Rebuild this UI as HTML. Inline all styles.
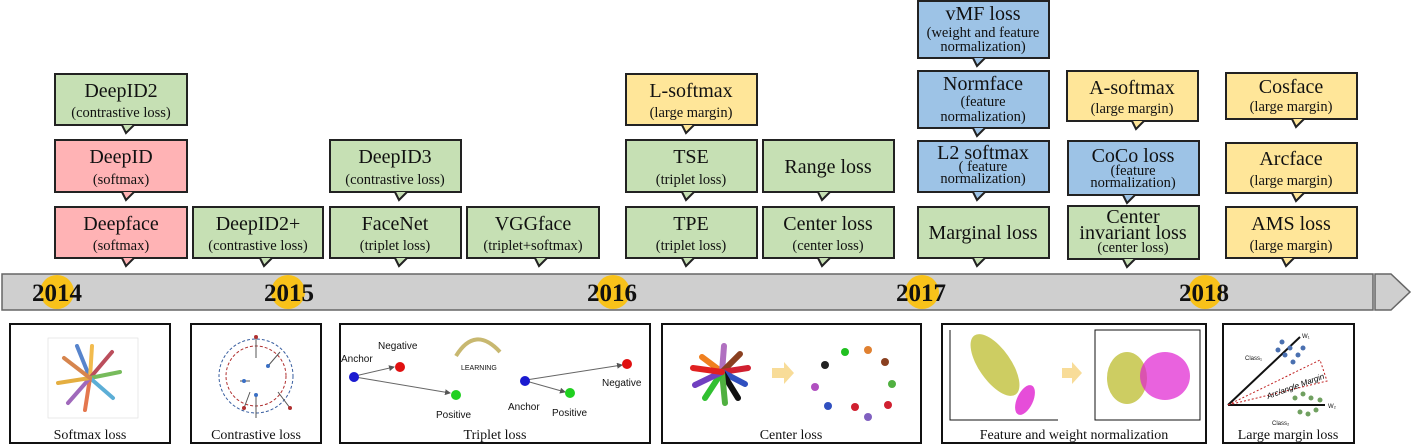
<!DOCTYPE html>
<html><head><meta charset="utf-8"><style>
html,body{margin:0;padding:0;background:#fff;}
svg{display:block;font-family:"Liberation Serif",serif;}
</style></head><body>
<svg width="1412" height="448" viewBox="0 0 1412 448" xmlns="http://www.w3.org/2000/svg">
<defs>
<marker id="ah" markerWidth="6" markerHeight="6" refX="5" refY="3" orient="auto"><path d="M0,0L6,3L0,6z" fill="#555"/></marker>
</defs>
<!-- timeline -->
<rect x="2" y="274" width="1371" height="36" fill="#cfcfcf" stroke="#666" stroke-width="1.5"/>
<polygon points="1375,274 1391,274 1410,292 1391,310 1375,310" fill="#cfcfcf" stroke="#666" stroke-width="1.5"/>
<g fill="#f8c21a">
<circle cx="57" cy="292" r="17"/><circle cx="288" cy="292" r="17"/><circle cx="613" cy="292" r="17"/><circle cx="922" cy="292" r="17"/><circle cx="1205" cy="292" r="17"/>
</g>
<g font-size="25" font-weight="bold" fill="#111" text-anchor="middle">
<text x="57" y="301">2014</text><text x="289" y="301">2015</text><text x="612" y="301">2016</text><text x="921" y="301">2017</text><text x="1204" y="301">2018</text>
</g>

<g stroke="#222" stroke-width="2">
<g fill="#c6e0b4">
<rect x="55" y="74" width="132" height="51"/>
<rect x="193" y="207" width="130" height="51"/>
<rect x="330" y="140" width="131" height="52"/>
<rect x="330" y="207" width="131" height="51"/>
<rect x="467" y="207" width="132" height="51"/>
<rect x="626" y="140" width="131" height="52"/>
<rect x="626" y="207" width="131" height="51"/>
<rect x="763" y="140" width="131" height="52"/>
<rect x="763" y="207" width="131" height="51"/>
<rect x="918" y="207" width="131" height="51"/>
<rect x="1068" y="206" width="131" height="53"/>
</g>
<g fill="#ffb3b5">
<rect x="55" y="140" width="132" height="52"/>
<rect x="55" y="207" width="132" height="51"/>
</g>
<g fill="#9dc3e6">
<rect x="918" y="1" width="131" height="57"/>
<rect x="918" y="71" width="131" height="57"/>
<rect x="918" y="141" width="131" height="51"/>
<rect x="1068" y="141" width="131" height="54"/>
</g>
<g fill="#ffe699">
<rect x="626" y="74" width="131" height="51"/>
<rect x="1067" y="71" width="131" height="50"/>
<rect x="1226" y="73" width="131" height="46"/>
<rect x="1226" y="143" width="131" height="50"/>
<rect x="1226" y="207" width="131" height="51"/>
</g>
</g>
<!-- tails -->
<g stroke="#222" stroke-width="2" stroke-linejoin="miter">
<g fill="#c6e0b4">
<path d="M122,125 L126,133 L134,125"/>
<path d="M260,258 L264,266 L272,258"/>
<path d="M395,192 L399,200 L407,192"/>
<path d="M395,258 L399,266 L407,258"/>
<path d="M535,258 L539,266 L547,258"/>
<path d="M682,192 L686,200 L694,192"/>
<path d="M682,258 L686,266 L694,258"/>
<path d="M818,192 L822,200 L830,192"/>
<path d="M818,258 L822,266 L830,258"/>
<path d="M973,258 L977,266 L985,258"/>
<path d="M1123,259 L1127,267 L1135,259"/>
</g>
<g fill="#ffb3b5">
<path d="M122,192 L126,200 L134,192"/>
<path d="M122,258 L126,266 L134,258"/>
</g>
<g fill="#9dc3e6">
<path d="M973,58 L977,66 L985,58"/>
<path d="M973,128 L977,136 L985,128"/>
<path d="M973,192 L977,200 L985,192"/>
<path d="M1123,195 L1127,203 L1135,195"/>
</g>
<g fill="#ffe699">
<path d="M682,125 L686,133 L694,125"/>
<path d="M1132,121 L1136,129 L1144,121"/>
<path d="M1292,119 L1296,127 L1304,119"/>
<path d="M1292,193 L1296,201 L1304,193"/>
<path d="M1282,258 L1286,266 L1294,258"/>
</g>
</g>

<!-- box text -->
<g fill="#111" text-anchor="middle">
<g font-size="20">
<text x="121" y="97">DeepID2</text>
<text x="121" y="163">DeepID</text>
<text x="121" y="230">Deepface</text>
<text x="258" y="230">DeepID2+</text>
<text x="395" y="163">DeepID3</text>
<text x="395" y="230">FaceNet</text>
<text x="533" y="230">VGGface</text>
<text x="691" y="97">L-softmax</text>
<text x="691" y="163">TSE</text>
<text x="691" y="230">TPE</text>
<text x="828" y="173">Range loss</text>
<text x="828" y="230">Center loss</text>
<text x="983" y="20">vMF loss</text>
<text x="983" y="90">Normface</text>
<text x="983" y="159">L2 softmax</text>
<text x="983" y="239">Marginal loss</text>
<text x="1132" y="94">A-softmax</text>
<text x="1133" y="162">CoCo loss</text>
<text x="1133" y="223">Center</text>
<text x="1133" y="239">invariant loss</text>
<text x="1291" y="93">Cosface</text>
<text x="1291" y="165">Arcface</text>
<text x="1291" y="230">AMS loss</text>
</g>
<g font-size="14.5">
<text x="121" y="117">(contrastive loss)</text>
<text x="121" y="184">(softmax)</text>
<text x="121" y="250">(softmax)</text>
<text x="258" y="250">(contrastive loss)</text>
<text x="395" y="184">(contrastive loss)</text>
<text x="395" y="250">(triplet loss)</text>
<text x="533" y="250">(triplet+softmax)</text>
<text x="691" y="117">(large margin)</text>
<text x="691" y="184">(triplet loss)</text>
<text x="691" y="250">(triplet loss)</text>
<text x="828" y="250">(center loss)</text>
<text x="983" y="37">(weight and feature</text>
<text x="983" y="51">normalization)</text>
<text x="983" y="106">(feature</text>
<text x="983" y="121">normalization)</text>
<text x="983" y="171">( feature</text>
<text x="983" y="183">normalization)</text>
<text x="1133" y="175">(feature</text>
<text x="1133" y="187">normalization)</text>
<text x="1133" y="252">(center loss)</text>
<text x="1132" y="113">(large margin)</text>
<text x="1291" y="111">(large margin)</text>
<text x="1291" y="185">(large margin)</text>
<text x="1291" y="250">(large margin)</text>
</g>
</g>

<!-- bottom panels -->
<g fill="#fff" stroke="#111" stroke-width="2">
<rect x="10" y="324" width="160" height="119"/>
<rect x="191" y="324" width="130" height="119"/>
<rect x="340" y="324" width="310" height="119"/>
<rect x="662" y="324" width="259" height="119"/>
<rect x="942" y="324" width="264" height="119"/>
<rect x="1223" y="324" width="131" height="119"/>
</g>
<g font-size="14" fill="#111" text-anchor="middle">
<text x="90" y="439">Softmax loss</text>
<text x="256" y="439">Contrastive loss</text>
<text x="495" y="439">Triplet loss</text>
<text x="791" y="439">Center loss</text>
<text x="1074" y="439">Feature and weight normalization</text>
<text x="1288" y="439">Large margin loss</text>
</g>

<!-- softmax illus -->
<rect x="48" y="338" width="90" height="80" fill="none" stroke="#ddd" stroke-width="0.6"/>
<g stroke-width="4" stroke-linecap="round" opacity="0.85">
<line x1="90" y1="378" x2="77" y2="346" stroke="#3a6fc4"/>
<line x1="90" y1="378" x2="92" y2="346" stroke="#f0b030"/>
<line x1="90" y1="378" x2="112" y2="352" stroke="#b03040"/>
<line x1="90" y1="378" x2="120" y2="372" stroke="#60b040"/>
<line x1="90" y1="378" x2="113" y2="398" stroke="#40a0d0"/>
<line x1="90" y1="378" x2="85" y2="410" stroke="#e06030"/>
<line x1="90" y1="378" x2="68" y2="403" stroke="#9050b0"/>
<line x1="90" y1="378" x2="58" y2="383" stroke="#e0a020"/>
<line x1="90" y1="378" x2="64" y2="358" stroke="#d07030"/>
</g>
<!-- contrastive illus -->
<circle cx="256" cy="376" r="37" fill="none" stroke="#3a5fa0" stroke-dasharray="3,2"/>
<circle cx="256" cy="376" r="30" fill="none" stroke="#b03030" stroke-dasharray="3,2"/>
<g stroke="#555" stroke-width="1" fill="none">
<line x1="256" y1="337" x2="256" y2="358"/><line x1="256" y1="395" x2="256" y2="418"/>
<line x1="268" y1="366" x2="280" y2="352"/><line x1="240" y1="381" x2="250" y2="381"/>
<line x1="244" y1="408" x2="250" y2="392"/><line x1="278" y1="392" x2="290" y2="408"/>
</g>
<g fill="#b03030"><circle cx="256" cy="337" r="2"/><circle cx="244" cy="408" r="2"/><circle cx="290" cy="408" r="2"/></g>
<g fill="#3a6fc4"><circle cx="268" cy="366" r="2"/><circle cx="256" cy="395" r="2"/><circle cx="244" cy="381" r="2"/></g>
<!-- triplet illus -->
<g font-family="Liberation Sans,sans-serif" font-size="10" fill="#111">
<text x="341" y="362">Anchor</text><text x="378" y="349">Negative</text><text x="436" y="418">Positive</text>
<text x="508" y="410">Anchor</text><text x="552" y="416">Positive</text><text x="602" y="386">Negative</text>
<text x="461" y="370" font-size="7">LEARNING</text>
</g>
<path d="M456,356 Q475,325 500,352" fill="none" stroke="#c8b870" stroke-width="4"/>
<g stroke="#666" stroke-width="1" marker-end="url(#ah)">
<line x1="355" y1="376" x2="394" y2="367"/><line x1="355" y1="377" x2="450" y2="393"/>
<line x1="526" y1="380" x2="622" y2="365"/><line x1="526" y1="381" x2="565" y2="392"/>
</g>
<circle cx="354" cy="377" r="5" fill="#1a1ad0"/><circle cx="400" cy="367" r="5" fill="#e01010"/><circle cx="456" cy="395" r="5" fill="#20d020"/>
<circle cx="525" cy="381" r="5" fill="#1a1ad0"/><circle cx="570" cy="393" r="5" fill="#20d020"/><circle cx="627" cy="364" r="5" fill="#e01010"/>
<!-- center loss illus -->
<g stroke-width="6" stroke-linecap="round">
<line x1="722" y1="372" x2="702" y2="357" stroke="#f08020"/><line x1="722" y1="372" x2="724" y2="346" stroke="#b070c0"/>
<line x1="722" y1="372" x2="740" y2="354" stroke="#8a4020"/><line x1="722" y1="372" x2="748" y2="368" stroke="#d02030"/>
<line x1="722" y1="372" x2="745" y2="384" stroke="#3050c0"/><line x1="722" y1="372" x2="738" y2="398" stroke="#111"/>
<line x1="722" y1="372" x2="725" y2="403" stroke="#50b040"/><line x1="722" y1="372" x2="705" y2="398" stroke="#30c030"/>
<line x1="722" y1="372" x2="695" y2="385" stroke="#7040c0"/><line x1="722" y1="372" x2="693" y2="368" stroke="#e02020"/>
</g>
<polygon points="772,368 784,368 784,362 794,373 784,384 784,378 772,378" fill="#f8dc98"/>
<g>
<circle cx="845" cy="352" r="4" fill="#20c020"/><circle cx="868" cy="350" r="4" fill="#e08030"/><circle cx="885" cy="362" r="4" fill="#8a4020"/>
<circle cx="825" cy="365" r="4" fill="#222"/><circle cx="892" cy="384" r="4" fill="#50b040"/><circle cx="815" cy="387" r="4" fill="#b050c0"/>
<circle cx="828" cy="406" r="4" fill="#3050c0"/><circle cx="855" cy="407" r="4" fill="#d02030"/><circle cx="888" cy="405" r="4" fill="#d02030"/><circle cx="868" cy="417" r="4" fill="#8060c0"/>
</g>
<!-- feature norm illus -->
<g stroke="#111" stroke-width="1" fill="none"><path d="M950,330 V420 H1058"/><path d="M1095,330 V420 H1200 V330 Z"/></g>
<ellipse cx="995" cy="365" rx="16" ry="36" transform="rotate(-35 995 365)" fill="#b8b820" opacity="0.7"/>
<ellipse cx="1025" cy="400" rx="8" ry="16" transform="rotate(25 1025 400)" fill="#e020d0" opacity="0.8"/>
<polygon points="1062,368 1072,368 1072,362 1082,373 1072,384 1072,378 1062,378" fill="#f8dc98"/>
<ellipse cx="1127" cy="378" rx="20" ry="26" fill="#b8b820" opacity="0.7"/>
<ellipse cx="1165" cy="376" rx="25" ry="24" fill="#e020d0" opacity="0.7"/>
<!-- large margin illus -->
<g stroke="#111" stroke-width="2"><line x1="1228" y1="405" x2="1300" y2="337"/><line x1="1228" y1="405" x2="1325" y2="405"/></g>
<polygon points="1228,405 1320,360 1327,381" fill="none" stroke="#c02020" stroke-dasharray="2,2"/>
<text x="1268" y="399" font-family="Liberation Sans,sans-serif" font-size="8" font-style="italic" transform="rotate(-20 1268 399)">Arc/angle Margin</text>
<g fill="#4a70b0"><circle cx="1282" cy="342" r="2.5"/><circle cx="1290" cy="348" r="2.5"/><circle cx="1298" cy="355" r="2.5"/><circle cx="1285" cy="355" r="2.5"/><circle cx="1293" cy="362" r="2.5"/><circle cx="1303" cy="348" r="2.5"/><circle cx="1278" cy="350" r="2.5"/></g>
<g fill="#70a060"><circle cx="1295" cy="398" r="2.5"/><circle cx="1303" cy="394" r="2.5"/><circle cx="1311" cy="398" r="2.5"/><circle cx="1300" cy="412" r="2.5"/><circle cx="1308" cy="414" r="2.5"/><circle cx="1316" cy="410" r="2.5"/><circle cx="1320" cy="400" r="2.5"/></g>
<g font-family="Liberation Sans,sans-serif" font-size="6" fill="#111"><text x="1245" y="360">Class₁</text><text x="1272" y="425">Class₂</text><text x="1302" y="338">W₁</text><text x="1328" y="408">W₂</text></g>
</svg>
</body></html>
